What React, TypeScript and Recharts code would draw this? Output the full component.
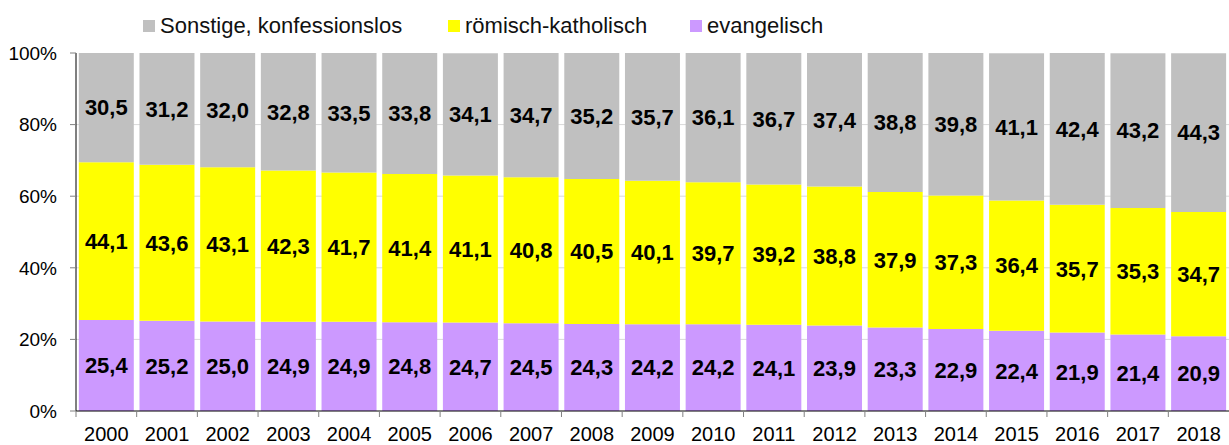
import React from 'react';
import { BarChart, Bar, XAxis, YAxis, CartesianGrid, LabelList } from 'recharts';

const years = ['2000','2001','2002','2003','2004','2005','2006','2007','2008','2009','2010','2011','2012','2013','2014','2015','2016','2017','2018'];
const evangelisch = [25.4,25.2,25.0,24.9,24.9,24.8,24.7,24.5,24.3,24.2,24.2,24.1,23.9,23.3,22.9,22.4,21.9,21.4,20.9];
const katholisch = [44.1,43.6,43.1,42.3,41.7,41.4,41.1,40.8,40.5,40.1,39.7,39.2,38.8,37.9,37.3,36.4,35.7,35.3,34.7];
const sonstige = [30.5,31.2,32.0,32.8,33.5,33.8,34.1,34.7,35.2,35.7,36.1,36.7,37.4,38.8,39.8,41.1,42.4,43.2,44.3];
const yTicks = [0, 20, 40, 60, 80, 100];
const gridValues = [20, 40, 60, 80];

const seriesNames = { sonstige: 'Sonstige, konfessionslos', katholisch: 'römisch-katholisch', evangelisch: 'evangelisch' };
const colors = { sonstige: '#c0c0c0', katholisch: '#ffff00', evangelisch: '#cc99ff' };

const data = years.map((y, i) => ({ year: y, evangelisch: evangelisch[i], katholisch: katholisch[i], sonstige: sonstige[i] }));

const W = 1229;
const H = 445;
const LEFT = 76;
const FONT = '"Liberation Sans", Arial, sans-serif';
const band = (W - LEFT) / years.length;

const fmt = (v: any) => {
  const n = Array.isArray(v) ? v[1] - v[0] : Number(v);
  return n.toFixed(1).replace('.', ',');
};

const XTick = (props: any) => {
  const { x, y, payload } = props;
  const bx = x - band / 2;
  return (
    <g>
      <line x1={bx} x2={bx} y1={y - 6} y2={y} stroke="#808080" strokeWidth={1} />
      <text x={x} y={y + 24} textAnchor="middle" fontSize={20} fontFamily={FONT} fill="#000">{payload.value}</text>
    </g>
  );
};

const legendItems = [
  { key: 'sonstige', left: 143 },
  { key: 'katholisch', left: 448 },
  { key: 'evangelisch', left: 690 },
];

export default function App() {
  return (
    <div style={{ position: 'absolute', left: 0, top: 0, width: W, height: H, background: '#fff' }}>
      <BarChart width={W} height={H} data={data} margin={{ top: 53, right: 0, bottom: 0, left: 0 }} barCategoryGap={2.8}>
        <CartesianGrid horizontal vertical={false} stroke="#d9d9d9" horizontalValues={gridValues} />
        <XAxis dataKey="year" height={34} axisLine={{ stroke: '#000' }} tickLine={false} tickSize={6} tickMargin={0} tick={<XTick />} interval={0} />
        <YAxis
          width={76}
          domain={[0, 100]}
          allowDataOverflow
          ticks={yTicks}
          tickFormatter={(v: number) => `${v}%`}
          axisLine={{ stroke: '#000' }}
          tickLine={{ stroke: '#808080' }}
          tickSize={6}
          tickMargin={13}
          tick={{ fontSize: 19, fontFamily: FONT, fill: '#000' }}
        />
        {(['evangelisch', 'katholisch', 'sonstige'] as const).map((k) => (
          <Bar key={k} dataKey={k} stackId="a" fill={colors[k]} isAnimationActive={false}>
            <LabelList dataKey={k} position="center" formatter={fmt} fill="#000" fontSize={22} fontWeight="bold" fontFamily={FONT} />
          </Bar>
        ))}
      </BarChart>
      {legendItems.map((it) => (
        <div key={it.key} style={{ position: 'absolute', left: it.left, top: 12, height: 28, display: 'flex', alignItems: 'center', fontFamily: FONT, fontSize: 22, color: '#111', whiteSpace: 'nowrap' }}>
          <span style={{ display: 'inline-block', width: 12, height: 12, background: colors[it.key as keyof typeof colors], marginRight: 5 }} />
          <span>{seriesNames[it.key as keyof typeof seriesNames]}</span>
        </div>
      ))}
    </div>
  );
}
